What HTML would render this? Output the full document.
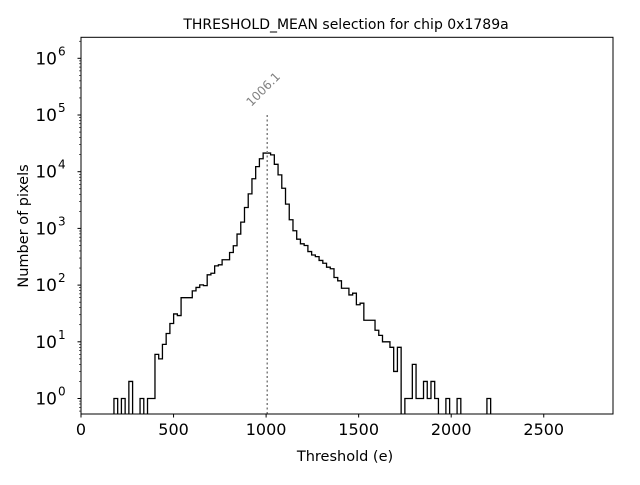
<!DOCTYPE html>
<html><head><meta charset="utf-8"><style>
body{margin:0;background:#fff;}
svg text{font-family:"DejaVu Sans","Liberation Sans",sans-serif;}
</style></head><body>
<svg id="chart" width="640" height="480" viewBox="0 0 640 480">
<rect width="640" height="480" fill="#fff"/>
<text x="346" y="29" font-size="14" text-anchor="middle">THRESHOLD_MEAN selection for chip 0x1789a</text>
<g id="plot"></g>
<text x="345" y="461" font-size="14.5" text-anchor="middle">Threshold (e)</text>
<text transform="translate(28,226) rotate(-90)" font-size="14.5" text-anchor="middle">Number of pixels</text>
</svg>
<script>
const binStart = 178;
const binWidth = 20.15;
const counts = [1,0,1,0,2,0,0,1,0,1,1,6,5,9,14,21,31,29,60,60,60,79,91,101,98,152,162,218,228,280,280,376,495,794,1290,2340,4060,7500,12300,16900,21300,21300,19800,13500,8800,5100,2680,1420,910,645,535,500,390,340,318,272,243,207,194,136,119,88,88,67,72,45,48,24,24,24,16,13,10,10,8,3,8,0,1,1,4,1,1,2,1,2,1,0,0,1,0,0,1,0,0,0,0,0,0,0,1];
const xTicks = [0,500,1000,1500,2000,2500];
const yTickExps = [0,1,2,3,4,5,6];
const selection = [1006.1];
const selectionTop = [100000];

const L=81,R=613,T=37.3,B=414;
const xs=v=>L+v*0.1851;
const ys=v=>v<=0?B+5:398.5-56.7*Math.log10(v);
const NS="http://www.w3.org/2000/svg";
const g=document.getElementById('plot');
function mk(t,a){const e=document.createElementNS(NS,t);for(const k in a)e.setAttribute(k,a[k]);g.appendChild(e);return e;}

const cp=mk('clipPath',{id:'clip'});
const cr=document.createElementNS(NS,'rect');cr.setAttribute('x',L);cr.setAttribute('y',T);cr.setAttribute('width',R-L);cr.setAttribute('height',B-T);cp.appendChild(cr);

let d='M'+xs(binStart)+','+(B+5);
counts.forEach((c,i)=>{const x0=xs(binStart+i*binWidth),x1=xs(binStart+(i+1)*binWidth);d+=' L'+x0+','+ys(c)+' L'+x1+','+ys(c);});
d+=' L'+xs(binStart+counts.length*binWidth)+','+(B+5);
const hp=mk('path',{d:d,fill:'none',stroke:'#000','stroke-width':1.3,'clip-path':'url(#clip)'});



const sx=xs(selection[0]);
const sl=mk('line',{x1:sx,x2:sx,y1:B,y2:ys(selectionTop[0]),stroke:'#808080','stroke-width':1.5,'stroke-dasharray':'2,2.5'});


const st=mk('text',{x:sx-16,y:ys(selectionTop[0])-8,'font-size':12,fill:'#808080',transform:'rotate(-45 '+(sx-16)+' '+(ys(selectionTop[0])-8)+')'});
st.textContent=selection[0].toFixed(1);



const fr=mk('rect',{x:L,y:T,width:R-L,height:B-T,fill:'none',stroke:'#000','stroke-width':1});



xTicks.forEach(v=>{const x=xs(v);
 const tk=mk('line',{x1:x,x2:x,y1:B,y2:B+3.5,stroke:'#000'});
 
 
 const t=mk('text',{x:x,y:B+21,'font-size':16,'text-anchor':'middle'});t.textContent=v;
 
 
});
yTickExps.forEach(e=>{const y=ys(Math.pow(10,e));
 const tk=mk('line',{x1:L-3.5,x2:L,y1:y,y2:y,stroke:'#000'});
 
 
 const t=mk('text',{x:L-24,y:y+6,'font-size':17,'text-anchor':'end'});t.textContent='10';
 
 
 const s=mk('text',{x:L-23,y:y-3,'font-size':12});s.textContent=e;
 
 
});
for(let e=-1;e<=6;e++)for(let m=2;m<=9;m++){const v=m*Math.pow(10,e),y=ys(v);if(y<T||y>B)continue;
 const tk=mk('line',{x1:L-2,x2:L,y1:y,y2:y,stroke:'#000','stroke-width':0.6});
 
 
}
</script>
</body></html>
